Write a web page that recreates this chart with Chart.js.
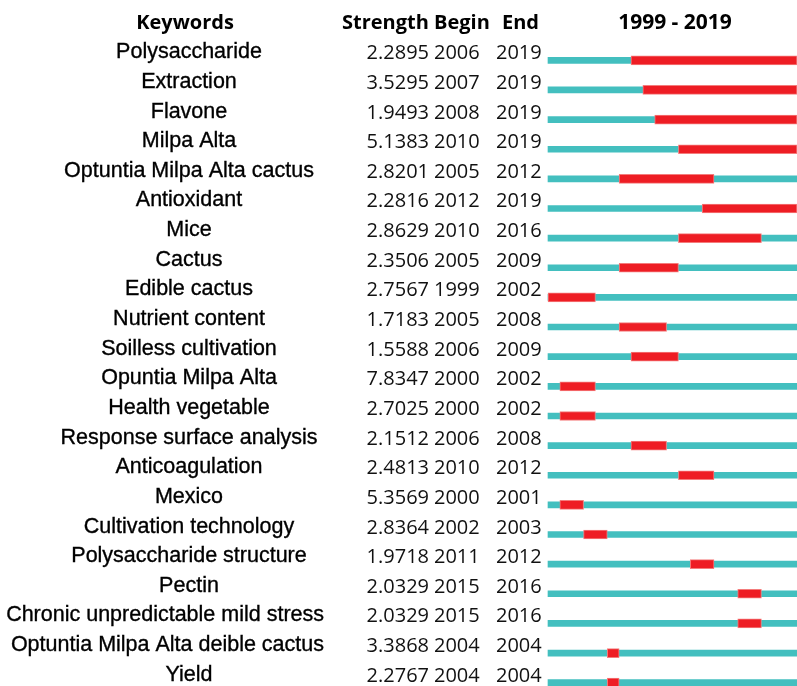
<!DOCTYPE html>
<html>
<head>
<meta charset="utf-8">
<script src="https://cdn.jsdelivr.net/npm/chart.js@4.4.1/dist/chart.umd.min.js"></script>
<style>
  html, body { margin: 0; padding: 0; background: #ffffff; }
  #wrap { width: 797px; height: 686px; }
</style>
</head>
<body>
<div id="wrap"><canvas id="c" width="797" height="686"></canvas></div>
<script>
const keywords = [
  "Polysaccharide", "Extraction", "Flavone", "Milpa Alta",
  "Optuntia Milpa Alta cactus", "Antioxidant", "Mice", "Cactus",
  "Edible cactus", "Nutrient content", "Soilless cultivation",
  "Opuntia Milpa Alta", "Health vegetable", "Response surface analysis",
  "Anticoagulation", "Mexico", "Cultivation technology",
  "Polysaccharide structure", "Pectin", "Chronic unpredictable mild stress",
  "Optuntia Milpa Alta deible cactus", "Yield"
];
const strength = [
  2.2895, 3.5295, 1.9493, 5.1383, 2.8201, 2.2816, 2.8629, 2.3506,
  2.7567, 1.7183, 1.5588, 7.8347, 2.7025, 2.1512, 2.4813, 5.3569,
  2.8364, 1.9718, 2.0329, 2.0329, 3.3868, 2.2767
];
const beginYear = [
  2006, 2007, 2008, 2010, 2005, 2012, 2010, 2005, 1999, 2005, 2006,
  2000, 2000, 2006, 2010, 2000, 2002, 2011, 2015, 2015, 2004, 2004
];
const endYear = [
  2019, 2019, 2019, 2019, 2012, 2019, 2016, 2009, 2002, 2008, 2009,
  2002, 2002, 2008, 2012, 2001, 2003, 2012, 2016, 2016, 2004, 2004
];
const firstYear = 1999;
const lastYear = 2019;
const headers = ["Keywords", "Strength", "Begin", "End", firstYear + " - " + lastYear];

const burstData = keywords.map((k, i) => [beginYear[i], endYear[i] + 1]);
const spanData = keywords.map(() => [firstYear, lastYear + 1]);

const textPlugin = {
  id: 'burstText',
  afterDraw(chart) {
    const ctx = chart.ctx;
    const ys = chart.scales.y;
    const area = chart.chartArea;
    ctx.save();
    ctx.fillStyle = '#000000';
    ctx.strokeStyle = '#000000';
    ctx.textBaseline = 'alphabetic';
    // headers
    ctx.font = 'bold 20px "Open Sans"';
    ctx.textAlign = 'center';
    ctx.fillText(headers[0], 185, 29);
    ctx.textAlign = 'left';
    ctx.fillText(headers[1], 342, 29);
    ctx.fillText(headers[2], 434, 29);
    ctx.fillText(headers[3], 502, 29);
    ctx.textAlign = 'center';
    ctx.font = 'bold 21px "Open Sans"';
    ctx.fillText(headers[4], 675, 29);
    // rows
    keywords.forEach((k, i) => {
      const y = ys.getPixelForValue(i) - 2;
      ctx.font = '21.5px "Liberation Sans", Arial, sans-serif';
      ctx.textAlign = 'center';
      const w = ctx.measureText(k).width;
      const cx = Math.min(189, 324 - w / 2);
      ctx.lineWidth = 0.35;
      ctx.fillText(k, cx, y);
      ctx.strokeText(k, cx, y);
      ctx.font = '20px "Open Sans"';
      ctx.textAlign = 'right';
      ctx.fillStyle = '#111111';
      ctx.fillText(strength[i].toFixed(4), 429, y + 1);
      ctx.textAlign = 'left';
      ctx.fillText(String(beginYear[i]), 434, y + 1);
      ctx.fillText(String(endYear[i]), 496, y + 1);
      ctx.fillStyle = '#000000';
    });
    ctx.restore();
  }
};

new Chart(document.getElementById('c'), {
  type: 'bar',
  data: {
    labels: keywords,
    datasets: [
      {
        label: 'Burst',
        data: burstData,
        backgroundColor: '#ee1d24',
        borderColor: '#f47c7c',
        borderWidth: 1,
        borderSkipped: false,
        barThickness: 9,
        grouped: false,
        clip: false
      },
      {
        label: 'Span',
        data: spanData,
        backgroundColor: '#43bfbf',
        borderWidth: 0,
        barThickness: 6,
        grouped: false,
        clip: false
      }
    ]
  },
  options: {
    indexAxis: 'y',
    responsive: false,
    animation: false,
    events: [],
    layout: { padding: { left: 548, right: 0, top: 60.3, bottom: 3.3 } },
    plugins: { legend: { display: false }, tooltip: { enabled: false } },
    scales: {
      x: { type: 'linear', min: firstYear, max: lastYear + 1, display: false },
      y: { type: 'category', offset: false, display: false }
    }
  },
  plugins: [textPlugin]
});
</script>
</body>
</html>
